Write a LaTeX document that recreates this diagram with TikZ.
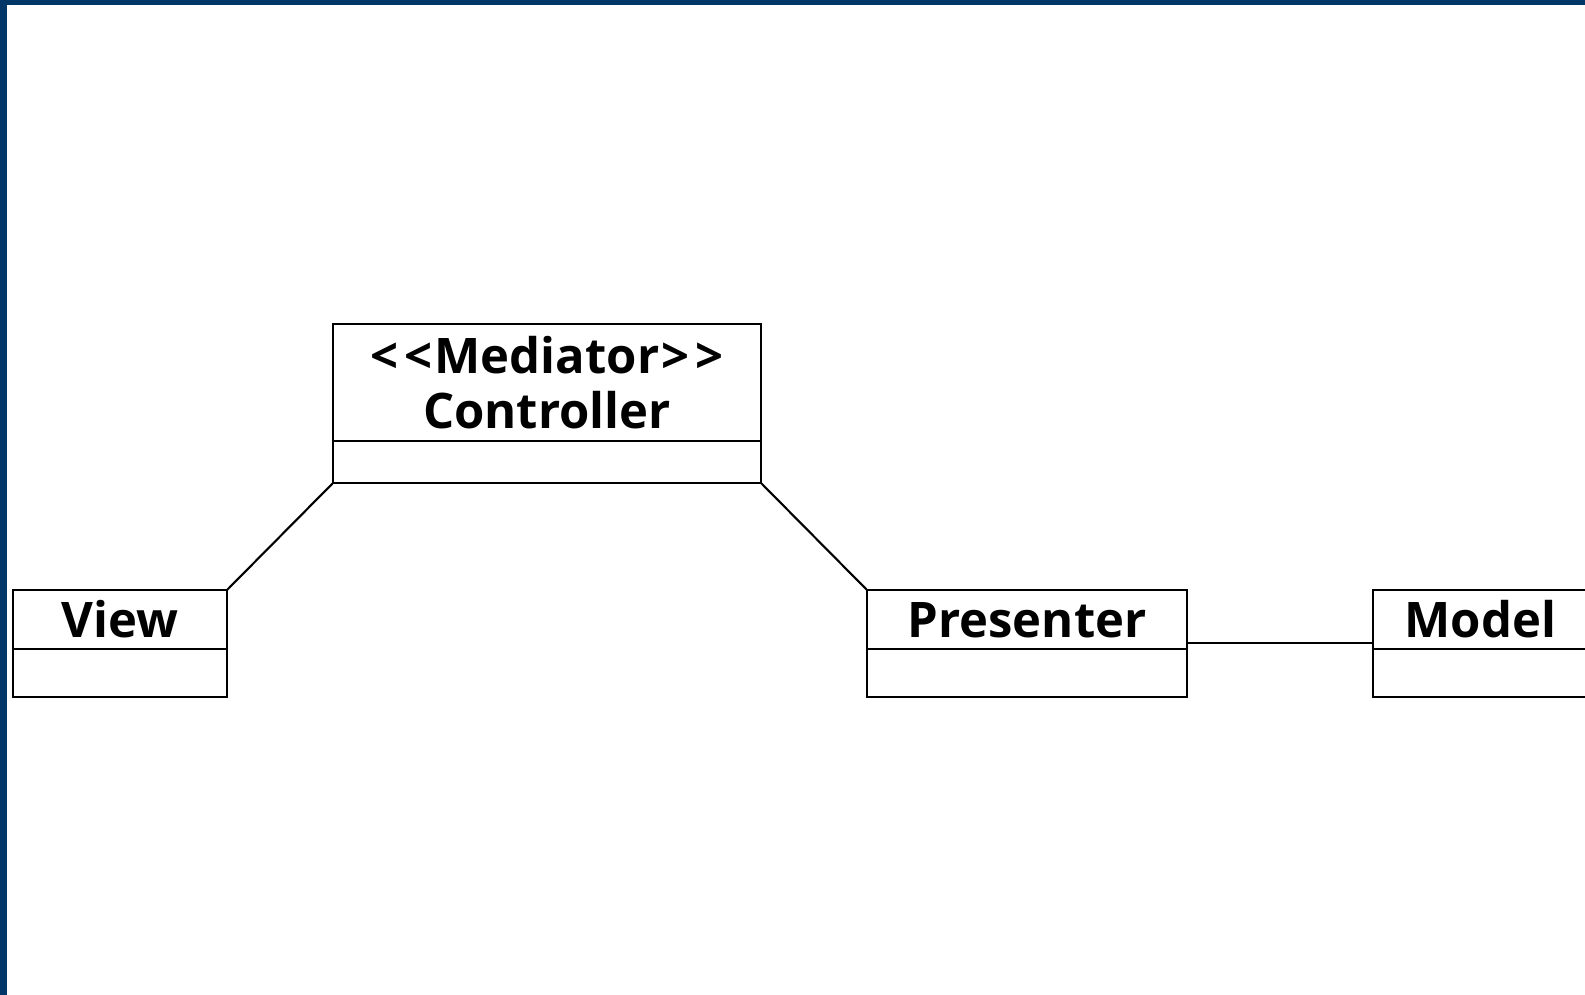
\documentclass[tikz,border=0pt]{standalone}
\usepackage{fontspec}
\setmainfont{Open Sans}
\definecolor{framecol}{RGB}{0,54,104}
\begin{document}
\begin{tikzpicture}[x=1pt,y=-1pt,
  boxbase/.style={draw=black, line width=2.1pt, inner sep=0pt, outer sep=0pt, anchor=north west},
  namebox/.style={boxbase, font=\fontsize{49}{55}\selectfont\bfseries, text height=35pt, text depth=0pt},
  stereobox/.style={boxbase, font=\fontsize{49}{55}\selectfont\bfseries, align=center},
  attrbox/.style={boxbase},
  conn/.style={draw=black, line width=2.1pt}]
\useasboundingbox (0,0) rectangle (1585,995);
\fill[framecol] (0,0) rectangle (1585,995);
\fill[white] (7,5) rectangle (1585,995);

% Controller
\node[stereobox, minimum width=428pt, minimum height=117pt] (ctrl) at (333,324)
  {<\kern6pt<\kern2ptMediator\kern2pt>\kern6pt>\\Controller};
\node[attrbox, minimum width=428pt, minimum height=42pt] (ctrlattr) at (ctrl.south west) {};

% View
\node[namebox, minimum width=214pt, minimum height=59pt] (view) at (13,590) {View};
\node[attrbox, minimum width=214pt, minimum height=48pt] (viewattr) at (view.south west) {};

% Presenter
\node[namebox, minimum width=320pt, minimum height=59pt] (pres) at (867,590) {Presenter};
\node[attrbox, minimum width=320pt, minimum height=48pt] (presattr) at (pres.south west) {};

% Model
\node[namebox, minimum width=215pt, minimum height=59pt] (model) at (1373,590) {Model};
\node[attrbox, minimum width=215pt, minimum height=48pt] (modelattr) at (model.south west) {};

% Connectors
\draw[conn] (ctrlattr.south west) -- (view.north east);
\draw[conn] (ctrlattr.south east) -- (pres.north west);
\draw[conn] ([yshift=6pt]pres.south east) -- ([yshift=6pt]model.south west);
\end{tikzpicture}
\end{document}
